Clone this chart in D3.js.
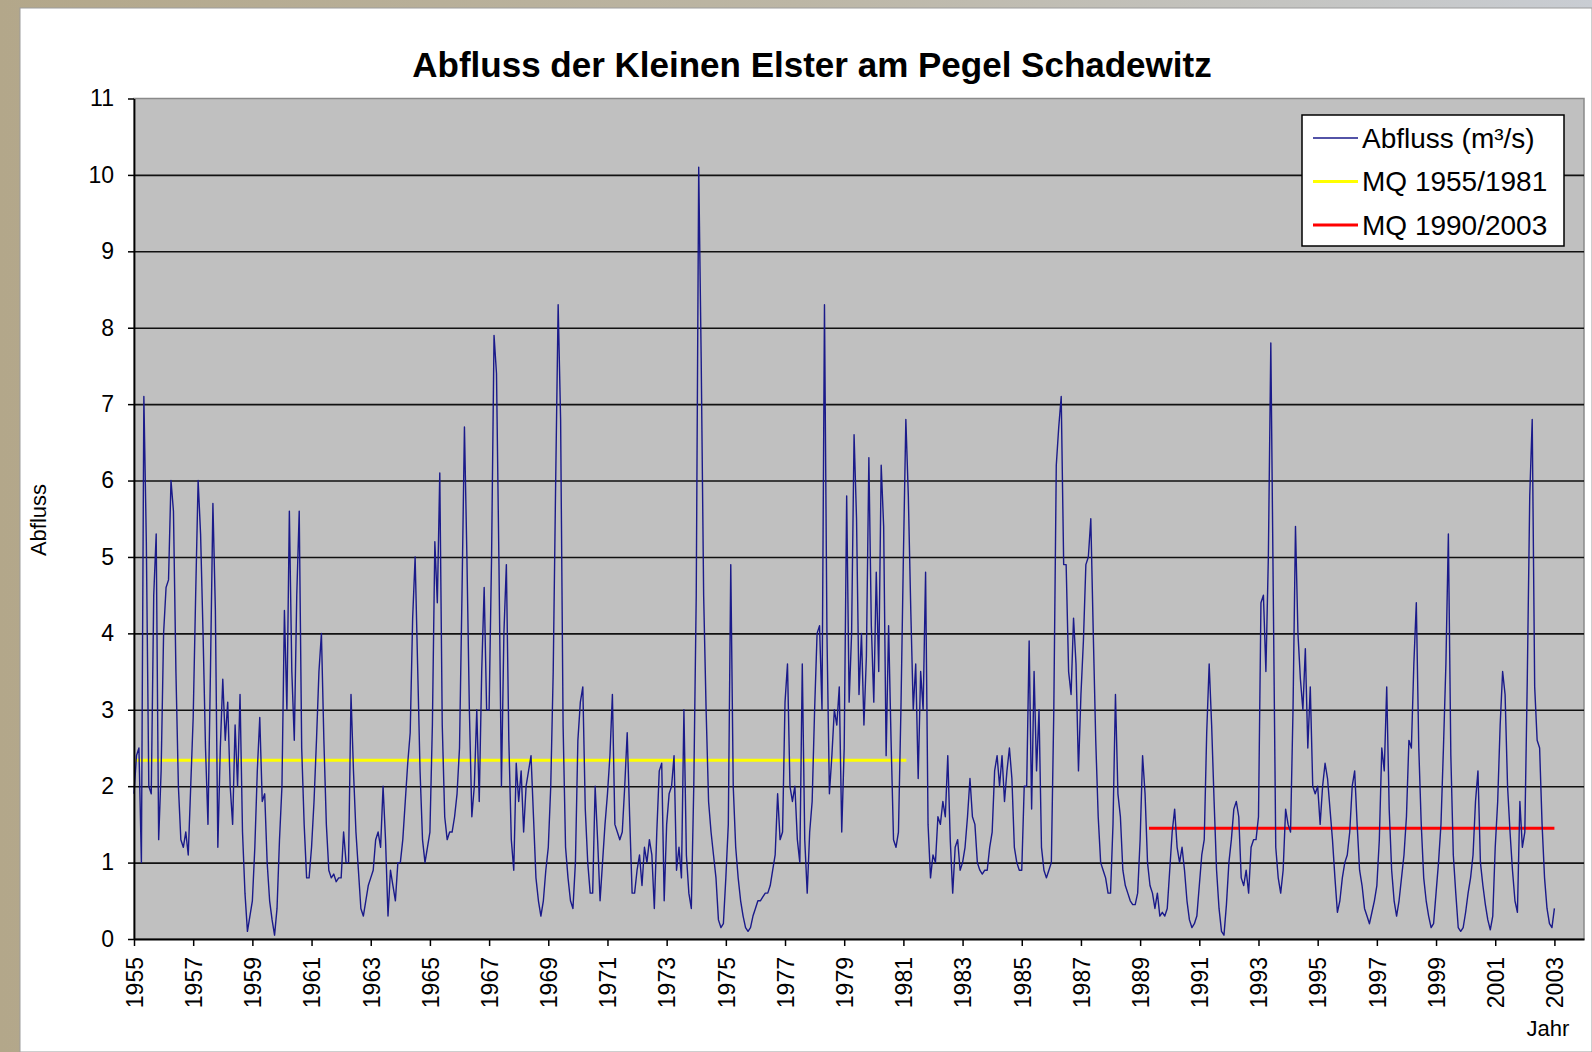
<!DOCTYPE html>
<html>
<head>
<meta charset="utf-8">
<script src="https://cdn.jsdelivr.net/npm/d3@7"></script>
<style>
  html, body { margin: 0; padding: 0; }
  body { width: 1592px; height: 1052px; overflow: hidden; background: #b7ad93; }
  svg { display: block; font-family: "Liberation Sans", Arial, sans-serif; }
</style>
</head>
<body>
<svg id="chart" width="1592" height="1052"></svg>
<script>
// Abfluss in m³/s, one value per month (Jan..Dec)
const startYear = 1955;

const abfluss1950s = [
  /*1955*/ 1.9, 2.4, 2.5, 1.0, 7.1, 5.2, 2.0, 1.9, 4.5, 5.3, 1.3, 2.2,
  /*1956*/ 4.0, 4.6, 4.7, 6.0, 5.6, 3.5, 2.0, 1.3, 1.2, 1.4, 1.1, 2.0,
  /*1957*/ 2.9, 4.5, 6.0, 5.3, 4.0, 2.5, 1.5, 3.5, 5.7, 4.3, 1.2, 2.5,
  /*1958*/ 3.4, 2.6, 3.1, 2.0, 1.5, 2.8, 2.0, 3.2, 1.4, 0.6, 0.1, 0.3,
  /*1959*/ 0.5, 1.2, 2.2, 2.9, 1.8, 1.9, 1.0, 0.5, 0.25, 0.05, 0.4, 1.3
];
const abfluss1960s = [
  /*1960*/ 2.0, 4.3, 3.0, 5.6, 3.5, 2.6, 4.5, 5.6, 2.5, 1.5, 0.8, 0.8,
  /*1961*/ 1.2, 1.8, 2.6, 3.5, 4.0, 2.6, 1.5, 0.9, 0.8, 0.85, 0.75, 0.8,
  /*1962*/ 0.8, 1.4, 1.0, 1.0, 3.2, 2.2, 1.4, 0.9, 0.4, 0.3, 0.5, 0.7,
  /*1963*/ 0.8, 0.9, 1.3, 1.4, 1.2, 2.0, 1.3, 0.3, 0.9, 0.7, 0.5, 1.0,
  /*1964*/ 1.0, 1.3, 1.8, 2.3, 2.7, 4.2, 5.0, 3.6, 2.2, 1.3, 1.0, 1.2,
  /*1965*/ 1.4, 2.8, 5.2, 4.4, 6.1, 2.8, 1.6, 1.3, 1.4, 1.4, 1.6, 1.9,
  /*1966*/ 2.5, 4.5, 6.7, 5.0, 3.0, 1.6, 2.0, 3.0, 1.8, 3.5, 4.6, 3.0,
  /*1967*/ 3.0, 5.0, 7.9, 7.4, 4.9, 2.0, 4.0, 4.9, 2.6, 1.3, 0.9, 2.3,
  /*1968*/ 1.8, 2.2, 1.4, 2.0, 2.2, 2.4, 1.6, 0.8, 0.5, 0.3, 0.5, 0.9,
  /*1969*/ 1.2, 2.0, 3.5, 6.0, 8.3, 6.8, 2.8, 1.2, 0.8, 0.5, 0.4, 1.0
];
const abfluss1970s = [
  /*1970*/ 2.6, 3.1, 3.3, 1.7, 1.0, 0.6, 0.6, 2.0, 1.3, 0.5, 1.0, 1.5,
  /*1971*/ 1.9, 2.4, 3.2, 1.5, 1.4, 1.3, 1.4, 2.0, 2.7, 1.6, 0.6, 0.6,
  /*1972*/ 0.9, 1.1, 0.7, 1.2, 1.0, 1.3, 1.1, 0.4, 1.4, 2.2, 2.3, 0.5,
  /*1973*/ 1.5, 1.9, 2.0, 2.4, 0.9, 1.2, 0.8, 3.0, 1.1, 0.6, 0.4, 2.0,
  /*1974*/ 4.5, 10.1, 7.6, 4.5, 3.0, 1.8, 1.4, 1.1, 0.8, 0.25, 0.15, 0.2,
  /*1975*/ 0.8, 1.5, 4.9, 2.0, 1.2, 0.8, 0.5, 0.3, 0.15, 0.1, 0.15, 0.3,
  /*1976*/ 0.4, 0.5, 0.5, 0.55, 0.6, 0.6, 0.7, 0.9, 1.1, 1.9, 1.3, 1.4,
  /*1977*/ 3.1, 3.6, 2.0, 1.8, 2.0, 1.3, 1.0, 3.6, 1.3, 0.6, 1.4, 1.8,
  /*1978*/ 3.0, 4.0, 4.1, 3.0, 8.3, 4.0, 1.9, 2.4, 3.0, 2.8, 3.3, 1.4,
  /*1979*/ 2.5, 5.8, 3.1, 4.0, 6.6, 5.5, 3.2, 4.0, 2.8, 3.7, 6.3, 4.1
];
const abfluss1980s = [
  /*1980*/ 3.1, 4.8, 3.5, 6.2, 5.4, 2.4, 4.1, 2.6, 1.3, 1.2, 1.4, 3.0,
  /*1981*/ 5.0, 6.8, 5.8, 4.3, 3.0, 3.6, 2.1, 3.5, 3.0, 4.8, 1.5, 0.8,
  /*1982*/ 1.1, 1.0, 1.6, 1.5, 1.8, 1.6, 2.4, 1.3, 0.6, 1.2, 1.3, 0.9,
  /*1983*/ 1.0, 1.2, 1.6, 2.1, 1.6, 1.5, 1.0, 0.9, 0.85, 0.9, 0.9, 1.2,
  /*1984*/ 1.4, 2.2, 2.4, 2.0, 2.4, 1.8, 2.2, 2.5, 2.1, 1.2, 1.0, 0.9,
  /*1985*/ 0.9, 2.0, 2.0, 3.9, 1.7, 3.5, 2.2, 3.0, 1.2, 0.9, 0.8, 0.9,
  /*1986*/ 1.0, 3.0, 6.2, 6.7, 7.1, 4.9, 4.9, 3.5, 3.2, 4.2, 3.6, 2.2,
  /*1987*/ 3.2, 3.9, 4.9, 5.0, 5.5, 4.0, 2.6, 1.6, 1.0, 0.9, 0.8, 0.6,
  /*1988*/ 0.6, 1.5, 3.2, 1.9, 1.6, 0.9, 0.7, 0.6, 0.5, 0.45, 0.45, 0.6,
  /*1989*/ 1.3, 2.4, 1.9, 1.0, 0.7, 0.6, 0.4, 0.6, 0.3, 0.35, 0.3, 0.4
];
const abfluss1990s = [
  /*1990*/ 0.9, 1.4, 1.7, 1.2, 1.0, 1.2, 0.9, 0.5, 0.25, 0.15, 0.2, 0.3,
  /*1991*/ 0.7, 1.1, 1.3, 2.7, 3.6, 2.8, 1.8, 0.9, 0.4, 0.1, 0.05, 0.45,
  /*1992*/ 1.0, 1.3, 1.7, 1.8, 1.6, 0.8, 0.7, 0.9, 0.6, 1.2, 1.3, 1.3,
  /*1993*/ 1.6, 4.4, 4.5, 3.5, 5.0, 7.8, 4.5, 1.2, 0.8, 0.6, 0.9, 1.7,
  /*1994*/ 1.5, 1.4, 3.0, 5.4, 4.0, 3.4, 3.0, 3.8, 2.5, 3.3, 2.0, 1.9,
  /*1995*/ 2.0, 1.5, 2.0, 2.3, 2.1, 1.7, 1.3, 0.8, 0.35, 0.5, 0.8, 1.0,
  /*1996*/ 1.1, 1.4, 2.0, 2.2, 1.5, 0.9, 0.7, 0.4, 0.3, 0.2, 0.35, 0.5,
  /*1997*/ 0.7, 1.3, 2.5, 2.2, 3.3, 1.7, 0.9, 0.5, 0.3, 0.5, 0.8, 1.1,
  /*1998*/ 1.6, 2.6, 2.5, 3.6, 4.4, 2.5, 1.5, 0.8, 0.5, 0.3, 0.15, 0.2,
  /*1999*/ 0.6, 1.0, 1.5, 2.5, 3.6, 5.3, 2.4, 1.1, 0.6, 0.15, 0.1, 0.15
];
const abfluss2000s = [
  /*2000*/ 0.35, 0.6, 0.8, 1.1, 1.8, 2.2, 1.0, 0.7, 0.45, 0.25, 0.12, 0.3,
  /*2001*/ 1.2, 1.8, 2.8, 3.5, 3.2, 2.0, 1.4, 0.9, 0.5, 0.35, 1.8, 1.2,
  /*2002*/ 1.4, 3.4, 5.8, 6.8, 3.3, 2.6, 2.5, 1.5, 0.8, 0.4, 0.2, 0.15,
  /*2003*/ 0.4
];

// mean discharge lines (MQ): label, value, start and end (year)
const mqLabels = ["MQ 1955/1981", "MQ 1990/2003"];
const mqValues = [2.34, 1.45];
const mqFrom   = [1955.0, 1989.3];
const mqTo     = [1981.1, 2003.0];
const mqColors = ["#ffff00", "#ff0000"];

const seriesLabel = "Abfluss (m³/s)";
const xTickYears = [1955, 1957, 1959, 1961, 1963, 1965, 1967, 1969, 1971, 1973, 1975, 1977,
                    1979, 1981, 1983, 1985, 1987, 1989, 1991, 1993, 1995, 1997, 1999, 2001, 2003];
const yTicks = [0, 1, 2, 3, 4, 5, 6, 7, 8, 9, 10, 11];

const abfluss = [].concat(abfluss1950s, abfluss1960s, abfluss1970s, abfluss1980s, abfluss1990s, abfluss2000s);
const data = abfluss.map((v, i) => ({ year: startYear + i / 12, value: v }));

// plot box
const plotLeft = 134, plotRight = 1584, plotTop = 98.5, plotBottom = 939;

const svg = d3.select("#chart");

// background frame (stone texture approximated with a gradient)
const defs = svg.append("defs");
const grad = defs.append("linearGradient").attr("id", "frame").attr("x1", "0").attr("x2", "1");
grad.append("stop").attr("offset", "0").attr("stop-color", "#b3a78a");
grad.append("stop").attr("offset", "0.5").attr("stop-color", "#bcb6a5");
grad.append("stop").attr("offset", "1").attr("stop-color", "#c9cdd3");
svg.append("rect").attr("width", 1592).attr("height", 1052).attr("fill", "url(#frame)");
svg.append("rect")
  .attr("x", 20).attr("y", 8).attr("width", 1572).attr("height", 1044)
  .attr("fill", "#ffffff").attr("stroke", "#9c9c9c").attr("stroke-width", 1);

const x = d3.scaleLinear().domain([1955, 2004]).range([plotLeft, plotRight]);
const y = d3.scaleLinear().domain([0, 11]).range([plotBottom, plotTop]);

// gray plot area
svg.append("rect")
  .attr("x", plotLeft).attr("y", plotTop)
  .attr("width", plotRight - plotLeft).attr("height", plotBottom - plotTop)
  .attr("fill", "#c0c0c0")
  .attr("stroke", "#8a8a8a").attr("stroke-width", 1.5);

// gridlines
svg.append("g")
  .attr("transform", `translate(${plotLeft},0)`)
  .call(d3.axisLeft(y).tickValues(yTicks.filter(d => d > 0 && d < 11)).tickSize(-(plotRight - plotLeft)).tickFormat(""))
  .call(g => g.select(".domain").remove())
  .call(g => g.selectAll("line").attr("stroke", "#111").attr("stroke-width", 1.6));

// mean lines
mqValues.forEach((v, i) => {
  svg.append("line")
    .attr("x1", x(mqFrom[i])).attr("x2", x(mqTo[i]))
    .attr("y1", y(v)).attr("y2", y(v))
    .attr("stroke", mqColors[i]).attr("stroke-width", 3);
});

// discharge series
const line = d3.line().x(d => x(d.year)).y(d => y(d.value));
svg.append("path")
  .datum(data)
  .attr("d", line)
  .attr("fill", "none")
  .attr("stroke", "#1a1a8a")
  .attr("stroke-width", 1.4)
  .attr("stroke-linejoin", "round");

// y axis
svg.append("g")
  .attr("transform", `translate(${plotLeft},0)`)
  .call(d3.axisLeft(y).tickValues(yTicks).tickSize(6).tickSizeOuter(0).tickPadding(14))
  .call(g => g.select(".domain").attr("stroke", "#000").attr("stroke-width", 1.8))
  .call(g => g.selectAll("line").attr("stroke", "#000").attr("stroke-width", 1.5))
  .call(g => g.selectAll("text").attr("fill", "#000").attr("font-size", 23).attr("font-family", "Liberation Sans, Arial, sans-serif"));

// x axis with rotated year labels
svg.append("g")
  .attr("transform", `translate(0,${plotBottom})`)
  .call(d3.axisBottom(x).tickValues(xTickYears).tickSize(7).tickSizeOuter(0).tickFormat(d3.format("d")))
  .call(g => g.select(".domain").attr("stroke", "#000").attr("stroke-width", 1.8))
  .call(g => g.selectAll("line").attr("stroke", "#000").attr("stroke-width", 1.5))
  .call(g => g.selectAll("text")
    .attr("fill", "#000").attr("font-size", 23).attr("font-family", "Liberation Sans, Arial, sans-serif")
    .attr("transform", "rotate(-90)")
    .attr("text-anchor", "end")
    .attr("x", -18).attr("y", 0).attr("dy", "0.36em"));

// title
svg.append("text")
  .attr("x", 812).attr("y", 77)
  .attr("text-anchor", "middle")
  .attr("font-size", 35).attr("font-weight", "bold")
  .text("Abfluss der Kleinen Elster am Pegel Schadewitz");

// axis titles
svg.append("text")
  .attr("transform", "translate(46,520) rotate(-90)")
  .attr("text-anchor", "middle")
  .attr("font-size", 22)
  .text("Abfluss");
svg.append("text")
  .attr("x", 1548).attr("y", 1036)
  .attr("text-anchor", "middle")
  .attr("font-size", 22)
  .text("Jahr");

// legend
const legend = svg.append("g").attr("transform", "translate(1302,115)");
legend.append("rect")
  .attr("width", 262).attr("height", 131)
  .attr("fill", "#fff").attr("stroke", "#000").attr("stroke-width", 1.5);
const legendItems = [
  { label: seriesLabel, color: "#1a1a8a", width: 1.4 },
  { label: mqLabels[0], color: mqColors[0], width: 3 },
  { label: mqLabels[1], color: mqColors[1], width: 3 }
];
legendItems.forEach((d, i) => {
  const cy = 23 + i * 43.5;
  legend.append("line")
    .attr("x1", 11).attr("x2", 56).attr("y1", cy).attr("y2", cy)
    .attr("stroke", d.color).attr("stroke-width", d.width);
  legend.append("text")
    .attr("x", 60).attr("y", cy).attr("dy", "0.35em")
    .attr("font-size", 28)
    .text(d.label);
});
</script>
</body>
</html>
